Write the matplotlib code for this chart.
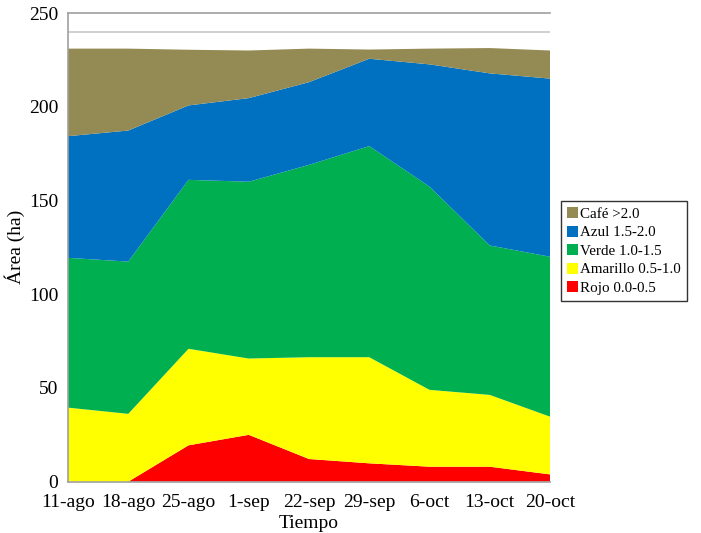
import numpy as np
import matplotlib.pyplot as plt

fechas = ["11-ago", "18-ago", "25-ago", "1-sep", "22-sep", "29-sep", "6-oct", "13-oct", "20-oct"]

tope_rojo = [0, 0, 19.4, 25.0, 12.1, 9.8, 8.0, 8.0, 3.9]
tope_amarillo = [39.5, 36.2, 70.9, 65.7, 66.4, 66.4, 49.0, 46.3, 34.7]
tope_verde = [119.4, 117.4, 161.0, 160.0, 169.0, 179.0, 157.4, 126.0, 120.0]
tope_azul = [184.3, 187.3, 200.7, 204.6, 213.1, 225.6, 222.6, 217.8, 215.0]
tope_cafe = [231.0, 231.0, 230.4, 230.0, 231.0, 230.5, 231.0, 231.3, 230.0]

rojo = np.array(tope_rojo)
amarillo = np.array(tope_amarillo) - np.array(tope_rojo)
verde = np.array(tope_verde) - np.array(tope_amarillo)
azul = np.array(tope_azul) - np.array(tope_verde)
cafe = np.array(tope_cafe) - np.array(tope_azul)

etiquetas = ["Rojo 0.0-0.5", "Amarillo 0.5-1.0", "Verde 1.0-1.5", "Azul 1.5-2.0", "Café >2.0"]
colores = ["#FF0000", "#FFFF00", "#00B050", "#0070C0", "#948A54"]

plt.rcParams['font.family'] = ['Liberation Serif', 'DejaVu Serif']

fig = plt.figure(figsize=(7.01, 5.33), dpi=100)
ax = fig.add_axes([68/701, 1 - 481.7/533, (550-68)/701, (481.7-13)/533])

x = np.arange(len(fechas))
ax.stackplot(x, rojo, amarillo, verde, azul, cafe, colors=colores, labels=etiquetas, linewidth=0)

ax.axhline(240, color="#c8c8c8", lw=1.2, zorder=0)
ax.set_xlim(0, len(fechas) - 1)
ax.set_ylim(0, 250)
ax.set_yticks([0, 50, 100, 150, 200, 250])
ax.set_xticks(x)
ax.set_xticklabels(fechas)
ax.tick_params(length=0, labelsize=14)
ax.tick_params(axis="y", pad=7)
ax.tick_params(axis="x", pad=9)

ax.spines["right"].set_visible(False)
for s in ["left", "bottom", "top"]:
    ax.spines[s].set_color("#a0a0a0")
    ax.spines[s].set_linewidth(1.2)

ax.set_ylabel("Área (ha)", fontsize=14, labelpad=3)
ax.set_xlabel("Tiempo", fontsize=14, labelpad=3)

h, l = ax.get_legend_handles_labels()
leg = fig.legend(h[::-1], l[::-1], loc="upper left", bbox_to_anchor=(561/701, 1 - 201/533),
                 fontsize=10.8, frameon=True, fancybox=False, edgecolor="black",
                 handlelength=0.75, handleheight=0.75, handletextpad=0.12,
                 labelspacing=0.32, borderpad=0.4, borderaxespad=0)
leg.get_frame().set_linewidth(1.0)

fig.savefig("out.png", dpi=100)
